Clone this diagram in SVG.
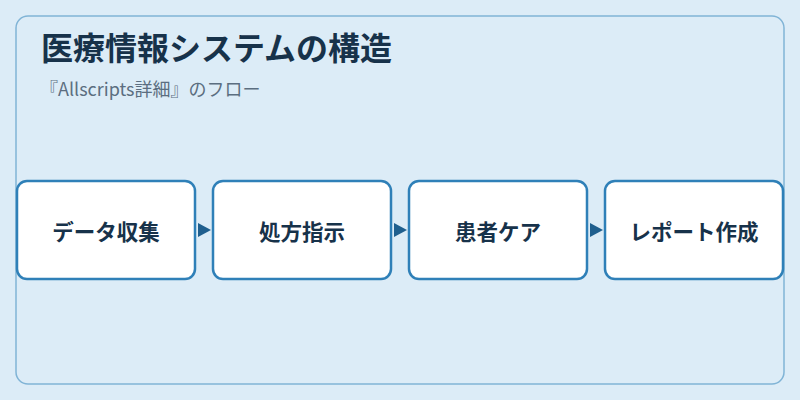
<svg xmlns="http://www.w3.org/2000/svg" width="800" height="400" viewBox="0 0 800 400">
<style>
.title{font-family:"Noto Sans CJK JP","Noto Sans",sans-serif;font-size:32px;font-weight:700;fill:#17324a}
.sub{font-family:"Noto Sans CJK JP","Noto Sans",sans-serif;font-size:18px;fill:#5b6e80}
.box{fill:#ffffff;stroke:#2f80b8;stroke-width:2.5}
.lbl{font-family:"Noto Sans CJK JP","Noto Sans",sans-serif;font-size:21.5px;font-weight:700;fill:#17324a;text-anchor:middle;dominant-baseline:central}
.arr{fill:#1f5f8e}
</style>
<rect x="0" y="0" width="800" height="400" fill="#dcecf7"/>
<rect x="16" y="16" width="768" height="368" rx="12" fill="#dcecf7" stroke="#80b4d6" stroke-width="1.5"/>
<text class="title" x="41" y="60">医療情報システムの構造</text>
<text class="sub" x="40" y="96">『Allscripts詳細』のフロー</text>
<g id="connectors">
<polygon class="arr" points="198,223 211,230 198,237"/>
<polygon class="arr" points="394,223 407,230 394,237"/>
<polygon class="arr" points="590,223 603,230 590,237"/>
</g>
<g id="node1"><rect class="box" x="17" y="181" width="178" height="98" rx="10"/><text class="lbl" x="106" y="230">データ収集</text></g>
<g id="node2"><rect class="box" x="213" y="181" width="178" height="98" rx="10"/><text class="lbl" x="302" y="230">処方指示</text></g>
<g id="node3"><rect class="box" x="409" y="181" width="178" height="98" rx="10"/><text class="lbl" x="498" y="230">患者ケア</text></g>
<g id="node4"><rect class="box" x="605" y="181" width="178" height="98" rx="10"/><text class="lbl" x="694" y="230">レポート作成</text></g>
</svg>
